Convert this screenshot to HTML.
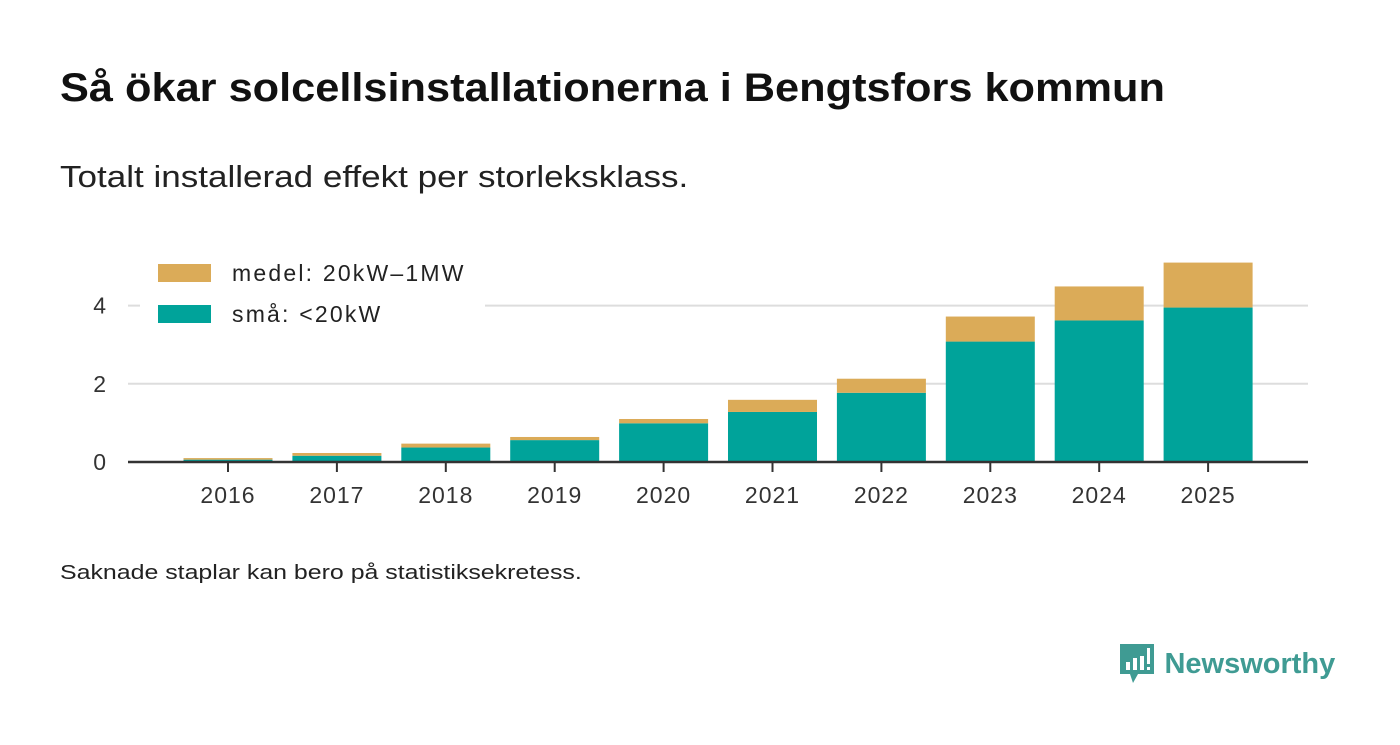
<!DOCTYPE html>
<html><head><meta charset="utf-8"><style>
body{margin:0;background:#fff;width:1400px;height:745px;overflow:hidden;font-family:"Liberation Sans",sans-serif;color:#111}
.t{position:absolute;white-space:nowrap;transform-origin:0 0}
</style></head><body>
<div class="t" style="left:60px;top:66px;font-size:40px;font-weight:bold;color:#111;transform:scaleX(1.083)">Så ökar solcellsinstallationerna i Bengtsfors kommun</div>
<div class="t" style="left:60px;top:159px;font-size:31px;color:#222;transform:scaleX(1.13)">Totalt installerad effekt per storleksklass.</div>
<div class="t" style="left:60px;top:562px;font-size:20px;color:#222;transform:scaleX(1.245)">Saknade staplar kan bero på statistiksekretess.</div>
<div class="t" style="left:1118px;top:642px;">
<svg width="38" height="44" viewBox="0 0 38 44" style="vertical-align:middle"><path d="M2 2h34v30H20l-5 9-3-9H2z" fill="#3f9b93"/><rect x="8" y="20" width="4" height="8" fill="#fff"/><rect x="15" y="16" width="4" height="12" fill="#fff"/><rect x="22" y="14" width="4" height="14" fill="#fff"/><rect x="29" y="6" width="3" height="16" fill="#fff"/><rect x="29" y="25" width="3" height="3" fill="#fff"/></svg>
<span style="font-size:29px;font-weight:bold;color:#3f9b93;vertical-align:middle;margin-left:4px">Newsworthy</span></div>
<svg id="c" width="1400" height="745" style="position:absolute;left:0;top:0"></svg>
<script>
const years=["2016","2017","2018","2019","2020","2021","2022","2023","2024","2025"];
const small=[0.06,0.16,0.37,0.56,0.99,1.28,1.77,3.08,3.62,3.95];
const medium=[0.04,0.07,0.10,0.08,0.11,0.31,0.36,0.64,0.87,1.15];
const yTicks=[0,2,4];
const NS="http://www.w3.org/2000/svg";
const svg=document.getElementById('c');
const y=v=>462-v*39.1;
const x=i=>228+i*108.9;
function mk(t,a){const e=document.createElementNS(NS,t);for(const k in a)e.setAttribute(k,a[k]);svg.appendChild(e);return e;}
yTicks.forEach(v=>{
 if(v>0){const g=mk('line',{x1:128,x2:1308,y1:y(v),y2:y(v),stroke:'#ddd','stroke-width':2});
 
 }
 const t=mk('text',{x:106,y:y(v)+8,'text-anchor':'end','font-size':23,fill:'#333','font-family':'Liberation Sans'});t.textContent=v;
 
 
});
years.forEach((yr,i)=>{
 const cx=x(i);
 const b=mk('rect',{x:cx-44.5,width:89,y:y(small[i]),height:small[i]*39.1,fill:'#00a39a'});
 
 
 const m=mk('rect',{x:cx-44.5,width:89,y:y(small[i]+medium[i]),height:medium[i]*39.1,fill:'#dbab58'});
 
 
 const tk=mk('line',{x1:cx,x2:cx,y1:462,y2:472,stroke:'#333','stroke-width':2});
 
 
 const t=mk('text',{x:cx,y:503,'text-anchor':'middle','font-size':23,'letter-spacing':1,fill:'#333','font-family':'Liberation Sans'});t.textContent=yr;
 
 
});
const ax=mk('line',{x1:128,x2:1308,y1:462,y2:462,stroke:'#333','stroke-width':2.5});


const lb=mk('rect',{x:140,y:250,width:345,height:85,fill:'#fff'});


[["medel: 20kW–1MW","#dbab58",264],["små: <20kW","#00a39a",305]].forEach(([l,c,yy])=>{
 const r=mk('rect',{x:158,y:yy,width:53,height:18,fill:c});
 
 
 const t=mk('text',{x:232,y:yy+17,'font-size':23,'letter-spacing':2.2,fill:'#222','font-family':'Liberation Sans'});t.textContent=l;
 
 
});
</script>
</body></html>
